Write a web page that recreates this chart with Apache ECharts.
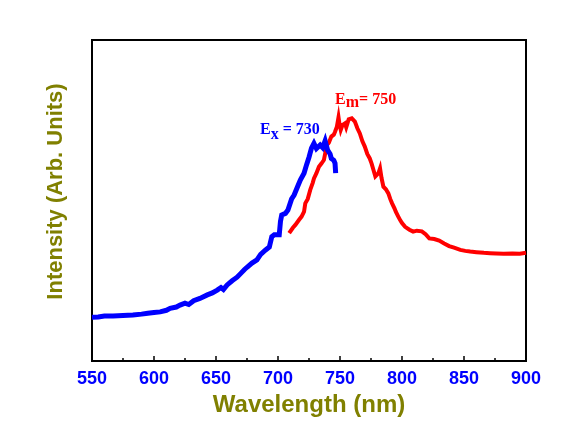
<!DOCTYPE html>
<html>
<head>
<meta charset="utf-8">
<script src="https://cdn.jsdelivr.net/npm/echarts@6/dist/echarts.min.js"></script>
<style>html,body{margin:0;padding:0;background:#fff}#c{width:585px;height:444px}</style>
</head>
<body>
<div id="c"></div>
<script>
// Excitation (blue) spectrum
var exWave = [550,555,560,567,575,583,590,595,600,605,610,613,618,621,625,628,632,637,643,647,651,654,656,659,663,667,670,673,675,679,683,686,690,693,695,697,701,702,703,706,708,711,713,716,718,721,723,725,727,729,731,734,736,738,740,742,743,745,746,746.5];
var exInt  = [13.6,13.7,14.0,14.0,14.2,14.3,14.6,14.9,15.1,15.3,15.8,16.4,16.8,17.4,18.0,17.6,18.8,19.5,20.6,21.2,22.1,22.9,22.3,23.7,25.0,26.1,27.3,28.5,29.2,30.5,31.5,33.2,34.6,35.5,38.7,39.3,39.3,43.5,45.5,46.0,47.0,50.5,51.7,54.5,56.4,58.5,61.1,63.5,66.3,67.8,66.2,67.3,66.5,68.6,65.7,64.5,63.1,62.5,61.6,58.5];
// Emission (red) spectrum
var emWave = [709,712,714,717,719,721,722,724,726,728,729,731,733,735,737,738,739.5,741,743,745,746,747.5,748.8,749.5,750.6,752,754,755,757,759.5,761,762,764,766,768,770,772,774,775.5,777,778.5,779.6,781,782.3,783.5,785,787,789,790.5,792,794,795,797,798.5,800,802.5,806,809,812,816,819,822,826,830,834,838,842,847,851,855,860,866,871,876,882,889,895,900];
var emInt  = [39.8,41.5,42.4,44.0,45.0,46.5,49.1,50.5,53.3,55.5,56.9,58.5,60.5,61.5,62.6,64.5,67.3,68.0,69.9,70.5,71.4,73.0,75.9,74.0,72.0,73.5,74.0,72.8,75.3,75.6,75.4,74.6,72.5,70.9,68.5,66.8,64.5,63.1,61.5,59.5,57.5,56.9,58.5,60.0,57.0,54.3,53.5,52.2,50.5,49.1,47.5,46.5,45.0,43.9,43.0,41.8,40.9,40.3,40.6,40.4,39.5,38.2,38.0,37.5,36.6,35.8,35.3,34.6,34.3,34.1,33.9,33.7,33.6,33.5,33.4,33.5,33.4,33.7];
var xTicks = [550,600,650,700,750,800,850,900];
var exLabelPos = [685.5, 71.2];
var emLabelPos = [746, 80.8];

function pairs(a, b){ return a.map(function(v,i){ return [v, b[i]]; }); }

var sans = '"Liberation Sans",Arial,sans-serif';
var serif = '"Liberation Serif","Times New Roman",serif';
function rich(color, sub){
  return {
    e: {fontFamily: serif, fontWeight: 'bold', fontSize: 16, color: color, verticalAlign: 'top'},
    s: {fontFamily: serif, fontWeight: 'bold', fontSize: 16, color: color, verticalAlign: 'top', padding: [sub,0,0,0]}
  };
}

var chart = echarts.init(document.getElementById('c'), null, {renderer: 'canvas'});
chart.setOption({
  animation: false,
  backgroundColor: '#fff',
  grid: {left: 92, right: 59, top: 40, bottom: 83, show: true, borderColor: '#000', borderWidth: 2},
  xAxis: {
    type: 'value', min: 550, max: 900, interval: 50,
    name: 'Wavelength (nm)', nameLocation: 'middle', nameGap: 22,
    nameTextStyle: {fontFamily: sans, fontWeight: 'bold', fontSize: 24, color: '#808000'},
    axisLine: {show: true, lineStyle: {color: '#000', width: 2}},
    axisTick: {show: true, inside: true, length: 5, lineStyle: {color: '#000', width: 1.5}},
    minorTick: {show: true, splitNumber: 2, length: 3, lineStyle: {color: '#000', width: 1.5}},
    splitLine: {show: false},
    axisLabel: {margin: 9, fontFamily: sans, fontWeight: 'bold', fontSize: 18, color: '#0000ff',
      formatter: function(v){ return xTicks.indexOf(v) >= 0 ? String(v) : ''; }}
  },
  yAxis: {
    type: 'value', min: 0, max: 100,
    name: 'Intensity (Arb. Units)', nameLocation: 'middle', nameGap: 25,
    nameTextStyle: {fontFamily: sans, fontWeight: 'bold', fontSize: 22, color: '#808000', padding: [0,0,0,18]},
    axisLine: {show: true, lineStyle: {color: '#000', width: 2}},
    axisTick: {show: false}, axisLabel: {show: false}, splitLine: {show: false}
  },
  series: [
    {
      type: 'line', data: pairs(exWave, exInt), showSymbol: false, symbol: 'none',
      lineStyle: {color: '#0000ff', width: 5, cap: 'butt', join: 'miter'}, z: 3,
      markPoint: {
        symbol: 'circle', symbolSize: 0,
        data: [{coord: exLabelPos}],
        label: {show: true, position: 'right', distance: 0,
          formatter: '{e|E}{s|x}{e| = 730}', rich: rich('#0000ff', 5)}
      }
    },
    {
      type: 'line', data: pairs(emWave, emInt), showSymbol: false, symbol: 'none',
      lineStyle: {color: '#ff0000', width: 4, cap: 'butt', join: 'miter'}, z: 2,
      markPoint: {
        symbol: 'circle', symbolSize: 0,
        data: [{coord: emLabelPos}],
        label: {show: true, position: 'right', distance: 0,
          formatter: '{e|E}{s|m}{e|= 750}', rich: rich('#ff0000', 3)}
      }
    }
  ]
});
</script>
</body>
</html>
